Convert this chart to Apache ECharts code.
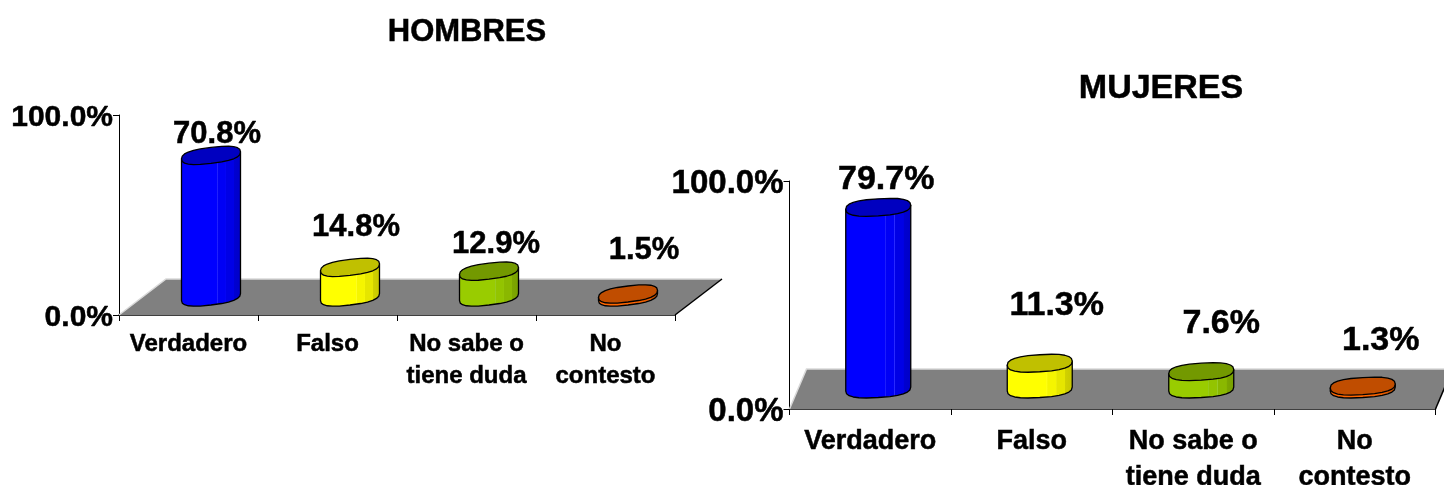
<!DOCTYPE html>
<html>
<head>
<meta charset="utf-8">
<style>html,body{margin:0;padding:0;background:#fff}#c{width:1444px;height:485px}</style>
<script src="https://cdn.jsdelivr.net/npm/echarts@6/dist/echarts.min.js"></script>
</head>
<body>
<div id="c"></div>
<script>
var categories = ['Verdadero', 'Falso', 'No sabe o\ntiene duda', 'No\ncontesto'];
var hombresValues = [70.8, 14.8, 12.9, 1.5];
var mujeresValues = [79.7, 11.3, 7.6, 1.3];
var titles = ['HOMBRES', 'MUJERES'];

var sideColors = [[0, 0, 255], [255, 255, 0], [153, 204, 0], [255, 102, 0]];
var topColors = ['#0000c0', '#c0c000', '#739900', '#c04d00'];
var FONT = '"Liberation Sans", Arial, sans-serif';
var HEAVY = 0.5;

// depth of the pseudo-3D floor and per-chart styling
var charts = [
  { grid: { left: 119, top: 115, width: 556, height: 200, outerBoundsMode: 'none' }, values: hombresValues,
    dx: 47, dy: 36, shift: 22.5, barW: 59, capH: 8, shear: 3.5, labelSize: 31, axisSize: 30, catSize: 24, lineH: 32, catMargin: 13,
    labelOff: [[6, -21], [6, -40], [7, -27], [16, -44]] },
  { grid: { left: 789.5, top: 181, width: 646, height: 228, outerBoundsMode: 'none' }, values: mujeresValues,
    dx: 17, dy: 40, shift: 8, barW: 65, capH: 8.5, shear: 2, labelSize: 34, axisSize: 33, catSize: 27, lineH: 36, catMargin: 15,
    labelOff: [[8, -28], [17, -58], [20, -48], [18, -45]] }
];

function shade(c, f) {
  return 'rgb(' + c.map(function (v) { return Math.round(v * f); }).join(',') + ')';
}
function facetGradient(c) {
  var bands = [[0, 1], [0.6, 1], [0.605, 1.08], [0.62, 0.96], [0.74, 0.96], [0.745, 1.02], [0.755, 0.9], [0.88, 0.9], [0.885, 0.82], [1, 0.78]];
  return {
    type: 'linear', x: 0, y: 0, x2: 1, y2: 0,
    colorStops: bands.map(function (b) {
      var col = c.map(function (v) { return Math.min(255, v === 0 && b[1] > 1 ? 40 : v); });
      return { offset: b[0], color: shade(col, Math.min(b[1], 1)) };
    })
  };
}
function spow(v, p) { return (v < 0 ? -1 : 1) * Math.pow(Math.abs(v), p); }
function rim(cx, cy, a, b, s, from, to, n) {
  var pts = [];
  for (var i = 0; i <= n; i++) {
    var t = from + (to - from) * i / n;
    var ct = spow(Math.cos(t), 0.75), st = spow(Math.sin(t), 0.8);
    pts.push([cx + a * ct, cy + b * st - s * ct]);
  }
  return pts;
}

function floorRenderer(cfg) {
  return function (params, api) {
    var y0 = api.coord([0, 0])[1];
    var band = api.size([1, 0])[0];
    var x0 = api.coord([0, 0])[0] - band / 2;
    var x1 = api.coord([categories.length - 1, 0])[0] + band / 2;
    return {
      type: 'group',
      children: [
        { type: 'polygon', shape: { points: [[x0, y0], [x1, y0], [x1 + cfg.dx, y0 - cfg.dy], [x0 + cfg.dx, y0 - cfg.dy]] },
          style: { fill: '#808080', stroke: null } },
        { type: 'polyline', shape: { points: [[x0, y0], [x0 + cfg.dx, y0 - cfg.dy], [x1 + cfg.dx, y0 - cfg.dy]] },
          style: { fill: null, stroke: '#d9d9d9', lineWidth: 1.5 } },
        { type: 'line', shape: { x1: x1, y1: y0, x2: x1 + cfg.dx, y2: y0 - cfg.dy },
          style: { stroke: '#000', lineWidth: 1.5 } }
      ]
    };
  };
}

function barRenderer(cfg) {
  return function (params, api) {
    var i = api.value(0), v = api.value(1);
    var base = api.coord([i, 0]), top = api.coord([i, v]);
    var cx = base[0] + cfg.shift;
    var by = base[1] - cfg.dy / 2;
    var ty = top[1] - cfg.dy / 2;
    var a = cfg.barW / 2;
    var topRim = rim(cx, ty, a, cfg.capH, cfg.shear, 0, Math.PI * 2, 24);
    var bottomArc = rim(cx, by, a, cfg.capH, cfg.shear, 0, Math.PI, 12);
    var topBack = rim(cx, ty, a, cfg.capH, cfg.shear, Math.PI, 0, 1);
    var body = topBack.concat(bottomArc);
    var off = cfg.labelOff[i];
    return {
      type: 'group',
      children: [
        { type: 'polygon', shape: { points: body },
          style: { fill: facetGradient(sideColors[i]), stroke: '#000', lineWidth: 1.3, lineJoin: 'round' } },
        { type: 'polygon', shape: { points: topRim },
          style: { fill: topColors[i], stroke: '#000', lineWidth: 1.3, lineJoin: 'round' } },
        { type: 'text',
          style: { text: v.toFixed(1) + '%', x: cx + off[0], y: ty + off[1], align: 'center', verticalAlign: 'middle',
            fontFamily: FONT, fontWeight: 'bold', fontSize: cfg.labelSize, fill: '#000', stroke: '#000', lineWidth: HEAVY } }
      ]
    };
  };
}

var option = {
  animation: false,
  backgroundColor: '#fff',
  title: [
    { text: titles[0], left: 462, top: 12, textAlign: 'center',
      textStyle: { fontFamily: FONT, fontWeight: 'bold', fontSize: 31, color: '#000', textBorderColor: '#000', textBorderWidth: HEAVY } },
    { text: titles[1], left: 1156, top: 67, textAlign: 'center',
      textStyle: { fontFamily: FONT, fontWeight: 'bold', fontSize: 34, color: '#000', textBorderColor: '#000', textBorderWidth: HEAVY } }
  ],
  grid: charts.map(function (c) { return c.grid; }),
  xAxis: charts.map(function (c, k) {
    return {
      type: 'category', gridIndex: k, data: categories, boundaryGap: true,
      axisLine: { show: true, lineStyle: { color: '#000', width: 1.5 } },
      axisTick: { show: true, alignWithLabel: false, length: 6, lineStyle: { color: '#000', width: 1 } },
      axisLabel: { interval: 0, margin: c.catMargin, lineHeight: c.lineH, fontFamily: FONT, fontWeight: 'bold', fontSize: c.catSize, color: '#000', textBorderColor: '#000', textBorderWidth: HEAVY },
      splitLine: { show: false }
    };
  }),
  yAxis: charts.map(function (c, k) {
    return {
      type: 'value', gridIndex: k, min: 0, max: 100, interval: 100,
      axisLine: { show: true, lineStyle: { color: '#000', width: 1 } },
      axisTick: { show: true, length: 6, lineStyle: { color: '#000', width: 1 } },
      axisLabel: { margin: 6, color: '#000',
        rich: { t: { padding: [5, 0, 0, 0], fontFamily: FONT, fontWeight: 'bold', fontSize: c.axisSize, color: '#000', textBorderColor: '#000', textBorderWidth: HEAVY } },
        formatter: function (v) { return '{t|' + v.toFixed(1) + '%}'; } },
      splitLine: { show: false }
    };
  }),
  series: []
};

charts.forEach(function (c, k) {
  option.series.push({
    type: 'custom', xAxisIndex: k, yAxisIndex: k, z: 1, silent: true, clip: false,
    renderItem: floorRenderer(c), data: [[0, 0]], encode: { x: 0, y: 1 }
  });
  option.series.push({
    type: 'custom', xAxisIndex: k, yAxisIndex: k, z: 5, clip: false,
    renderItem: barRenderer(c),
    data: c.values.map(function (v, i) { return [i, v]; }),
    encode: { x: 0, y: 1 }
  });
});

var chart = echarts.init(document.getElementById('c'), null, { renderer: 'canvas' });
chart.setOption(option);
</script>
</body>
</html>
